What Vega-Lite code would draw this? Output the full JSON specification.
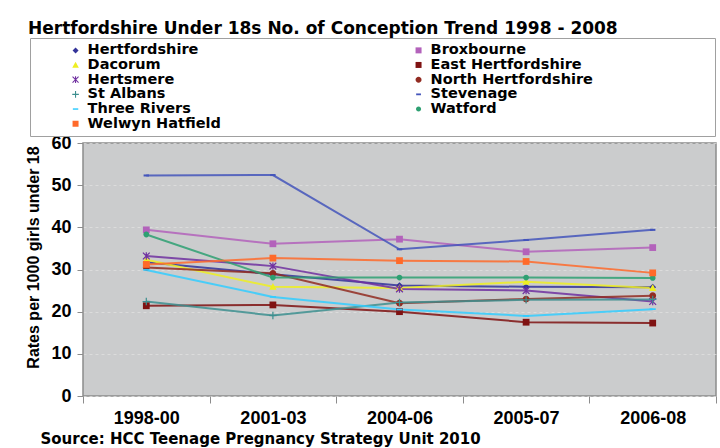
{
  "$schema": "https://vega.github.io/schema/vega-lite/v6.json",
  "width": 633,
  "height": 253,
  "autosize": {"type": "none"},
  "padding": {"left": 83, "top": 143, "right": 4, "bottom": 52},
  "background": "white",
  "title": {
    "text": "Hertfordshire Under 18s No. of Conception Trend 1998 - 2008",
    "anchor": "start",
    "frame": "group",
    "dx": -55,
    "offset": 0,
    "fontSize": 17,
    "fontWeight": "bold",
    "font": "DejaVu Sans",
    "color": "black"
  },
  "data": {
    "values": [
      {"area": "Hertfordshire", "period": "1998-00", "rate": 31.7},
      {"area": "Hertfordshire", "period": "2001-03", "rate": 28.9},
      {"area": "Hertfordshire", "period": "2004-06", "rate": 26.2},
      {"area": "Hertfordshire", "period": "2005-07", "rate": 25.9},
      {"area": "Hertfordshire", "period": "2006-08", "rate": 25.8},
      {"area": "Broxbourne", "period": "1998-00", "rate": 39.4},
      {"area": "Broxbourne", "period": "2001-03", "rate": 36.1},
      {"area": "Broxbourne", "period": "2004-06", "rate": 37.2},
      {"area": "Broxbourne", "period": "2005-07", "rate": 34.2},
      {"area": "Broxbourne", "period": "2006-08", "rate": 35.2},
      {"area": "Dacorum", "period": "1998-00", "rate": 32.3},
      {"area": "Dacorum", "period": "2001-03", "rate": 25.9},
      {"area": "Dacorum", "period": "2004-06", "rate": 25.6},
      {"area": "Dacorum", "period": "2005-07", "rate": 27.1},
      {"area": "Dacorum", "period": "2006-08", "rate": 25.6},
      {"area": "East Hertfordshire", "period": "1998-00", "rate": 21.4},
      {"area": "East Hertfordshire", "period": "2001-03", "rate": 21.6},
      {"area": "East Hertfordshire", "period": "2004-06", "rate": 20.0},
      {"area": "East Hertfordshire", "period": "2005-07", "rate": 17.5},
      {"area": "East Hertfordshire", "period": "2006-08", "rate": 17.3},
      {"area": "Hertsmere", "period": "1998-00", "rate": 33.2},
      {"area": "Hertsmere", "period": "2001-03", "rate": 30.8},
      {"area": "Hertsmere", "period": "2004-06", "rate": 25.4},
      {"area": "Hertsmere", "period": "2005-07", "rate": 25.0},
      {"area": "Hertsmere", "period": "2006-08", "rate": 22.4},
      {"area": "North Hertfordshire", "period": "1998-00", "rate": 30.5},
      {"area": "North Hertfordshire", "period": "2001-03", "rate": 29.1},
      {"area": "North Hertfordshire", "period": "2004-06", "rate": 22.0},
      {"area": "North Hertfordshire", "period": "2005-07", "rate": 23.0},
      {"area": "North Hertfordshire", "period": "2006-08", "rate": 23.8},
      {"area": "St Albans", "period": "1998-00", "rate": 22.4},
      {"area": "St Albans", "period": "2001-03", "rate": 19.1},
      {"area": "St Albans", "period": "2004-06", "rate": 22.2},
      {"area": "St Albans", "period": "2005-07", "rate": 22.8},
      {"area": "St Albans", "period": "2006-08", "rate": 22.9},
      {"area": "Stevenage", "period": "1998-00", "rate": 52.3},
      {"area": "Stevenage", "period": "2001-03", "rate": 52.4},
      {"area": "Stevenage", "period": "2004-06", "rate": 34.8},
      {"area": "Stevenage", "period": "2005-07", "rate": 37.0},
      {"area": "Stevenage", "period": "2006-08", "rate": 39.4},
      {"area": "Three Rivers", "period": "1998-00", "rate": 29.9},
      {"area": "Three Rivers", "period": "2001-03", "rate": 23.5},
      {"area": "Three Rivers", "period": "2004-06", "rate": 20.5},
      {"area": "Three Rivers", "period": "2005-07", "rate": 19.0},
      {"area": "Three Rivers", "period": "2006-08", "rate": 20.6},
      {"area": "Watford", "period": "1998-00", "rate": 38.3},
      {"area": "Watford", "period": "2001-03", "rate": 28.1},
      {"area": "Watford", "period": "2004-06", "rate": 28.1},
      {"area": "Watford", "period": "2005-07", "rate": 28.1},
      {"area": "Watford", "period": "2006-08", "rate": 28.0},
      {"area": "Welwyn Hatfield", "period": "1998-00", "rate": 31.2},
      {"area": "Welwyn Hatfield", "period": "2001-03", "rate": 32.7},
      {"area": "Welwyn Hatfield", "period": "2004-06", "rate": 32.1},
      {"area": "Welwyn Hatfield", "period": "2005-07", "rate": 31.9},
      {"area": "Welwyn Hatfield", "period": "2006-08", "rate": 29.2}
    ]
  },
  "encoding": {
    "x": {
      "field": "period",
      "type": "ordinal",
      "sort": ["1998-00", "2001-03", "2004-06", "2005-07", "2006-08"],
      "scale": {"type": "band", "paddingInner": 0, "paddingOuter": 0},
      "bandPosition": 0.5,
      "axis": {
        "title": "Source: HCC Teenage Pregnancy Strategy Unit 2010",
        "titleX": -43,
        "titleY": 42,
        "titleAlign": "left",
        "titleBaseline": "middle",
        "titleFont": "DejaVu Sans",
        "titleFontSize": 15,
        "labelAngle": 0,
        "labelFontSize": 18,
        "labelPadding": 6,
        "tickBand": "extent",
        "tickSize": 7,
        "domain": false,
        "grid": false
      }
    },
    "y": {
      "field": "rate",
      "type": "quantitative",
      "scale": {"domain": [0, 60], "nice": false},
      "axis": {
        "title": "Rates per 1000 girls under 18",
        "values": [0, 10, 20, 30, 40, 50, 60],
        "titleX": -50,
        "titleY": 114,
        "titleAngle": 270,
        "titleAlign": "center",
        "titleBaseline": "middle",
        "titleFontSize": 16,
        "labelFontSize": 18,
        "labelPadding": 6,
        "tickSize": 6,
        "domain": false,
        "grid": true,
        "gridColor": "#e2e2e2",
        "gridDash": [3, 3],
        "gridOpacity": 0.7
      }
    }
  },
  "layer": [
    {
      "mark": {"type": "line", "strokeWidth": 2, "opacity": 0.85},
      "encoding": {
        "stroke": {
          "field": "area",
          "type": "nominal",
          "legend": null,
          "scale": {
            "domain": ["Broxbourne", "Dacorum", "East Hertfordshire", "Hertfordshire", "Hertsmere", "North Hertfordshire", "St Albans", "Stevenage", "Three Rivers", "Watford", "Welwyn Hatfield"],
            "range": ["#b362bb", "#eeee22", "#7f1212", "#333399", "#7030a0", "#922b21", "#3d8f8f", "#4455bb", "#33ccff", "#2ea072", "#ff6a2a"]
          }
        }
      }
    },
    {
      "mark": {"type": "point", "filled": true, "size": 46, "strokeWidth": 1, "opacity": 1},
      "encoding": {
        "color": {
          "field": "area",
          "type": "nominal",
          "scale": {
            "domain": ["Hertfordshire", "Dacorum", "Hertsmere", "St Albans", "Three Rivers", "Welwyn Hatfield", "Broxbourne", "East Hertfordshire", "North Hertfordshire", "Stevenage", "Watford"],
            "range": ["#333399", "#eeee22", "#7030a0", "#3d8f8f", "#33ccff", "#ff6a2a", "#b362bb", "#7f1212", "#922b21", "#4455bb", "#2ea072"]
          },
          "legend": {
            "orient": "none",
            "legendX": -53,
            "legendY": -105,
            "columns": 2,
            "columnPadding": 157,
            "rowPadding": -0.3,
            "padding": 5,
            "strokeColor": "#a0a0a0",
            "fillColor": "white",
            "title": "\u00a0",
            "titleOrient": "right",
            "titleFontSize": 1,
            "titlePadding": 117,
            "symbolSize": 36,
            "symbolOffset": 33.3,
            "labelFontSize": 14.5,
            "labelFont": "DejaVu Sans",
            "labelFontWeight": "bold",
            "labelColor": "black",
            "labelOffset": 4.8,
            "labelLimit": 600
          }
        },
        "shape": {
          "field": "area",
          "type": "nominal",
          "legend": null,
          "scale": {
            "domain": ["Hertfordshire", "Dacorum", "Hertsmere", "St Albans", "Three Rivers", "Welwyn Hatfield", "Broxbourne", "East Hertfordshire", "North Hertfordshire", "Stevenage", "Watford"],
            "range": [
              "M0,-1L1,0L0,1L-1,0Z",
              "M0,-1.1L1.1,0.9H-1.1Z",
              "M-0.18,-1.1H0.18V1.1H-0.18ZM-0.873,-1.127L1.127,0.873L0.873,1.127L-1.127,-0.873ZM-1.127,0.873L0.873,-1.127L1.127,-0.873L-0.873,1.127Z",
              "M-0.18,-1.1H0.18V1.1H-0.18ZM-1.1,-0.18H1.1V0.18H-1.1Z",
              "M-0.9,-0.25H0.9V0.25H-0.9Z",
              "M-1,-1H1V1H-1Z",
              "M-1,-1H1V1H-1Z",
              "M-1,-1H1V1H-1Z",
              "M-1,0A1,1,0,1,0,1,0A1,1,0,1,0,-1,0Z",
              "M-0.8,-0.3H0.8V0.3H-0.8Z",
              "M-0.85,0A0.85,0.85,0,1,0,0.85,0A0.85,0.85,0,1,0,-0.85,0Z"
            ]
          }
        }
      }
    }
  ],
  "config": {
    "font": "Liberation Sans",
    "view": {"fill": "#cbcccd", "stroke": "#8c8c8c", "strokeWidth": 1.5},
    "axis": {
      "labelFont": "Liberation Sans",
      "labelFontWeight": "bold",
      "labelColor": "black",
      "titleFont": "Liberation Sans",
      "titleFontWeight": "bold",
      "titleColor": "black",
      "tickColor": "#8c8c8c",
      "tickWidth": 1
    }
  }
}
